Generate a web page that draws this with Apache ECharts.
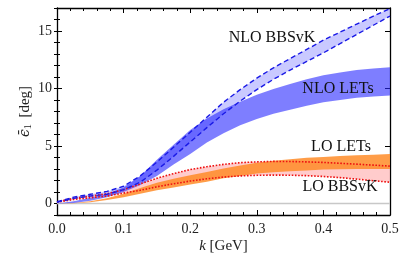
<!DOCTYPE html>
<html><head><meta charset="utf-8">
<script src="https://cdn.jsdelivr.net/npm/echarts@6/dist/echarts.min.js"></script>
<style>html,body{margin:0;padding:0;background:#fff}#c{width:407px;height:264px}</style>
</head><body><div id="c"></div>
<script>
const kVals = [0, .025, .05, .075, .1, .125, .15, .175, .2, .225, .25, .275, .3, .325, .35, .375, .4, .425, .45, .475, .5];
const nloBbsUpper = [0.15, 0.55, 0.8, 1.05, 1.5, 2.4, 3.6, 4.9, 6.2, 7.5, 8.8, 9.9, 10.9, 11.8, 12.6, 13.4, 14.2, 14.9, 15.6, 16.3, 16.95];
const nloBbsLower = [0.1, 0.45, 0.65, 0.8, 1.2, 1.85, 2.9, 4.1, 5.35, 6.6, 7.8, 8.9, 9.9, 10.8, 11.6, 12.35, 13.1, 13.9, 14.7, 15.5, 16.3];
const nloLetUpper = [0, 0.2, 0.5, 0.85, 1.4, 2.4, 3.8, 5.1, 6.4, 7.4, 8.2, 8.85, 9.45, 9.95, 10.4, 10.8, 11.15, 11.4, 11.6, 11.75, 11.85];
const nloLetLower = [0, 0.05, 0.25, 0.55, 1.0, 1.6, 2.4, 3.4, 4.3, 5.3, 6.1, 6.8, 7.35, 7.8, 8.15, 8.5, 8.8, 9.0, 9.2, 9.3, 9.4];
const loBbsUpper = [0.15, 0.45, 0.65, 0.85, 1.2, 1.7, 2.2, 2.6, 2.95, 3.2, 3.4, 3.55, 3.62, 3.66, 3.65, 3.62, 3.57, 3.5, 3.42, 3.34, 3.25];
const loBbsLower = [0.1, 0.35, 0.5, 0.65, 0.9, 1.15, 1.45, 1.72, 1.95, 2.15, 2.3, 2.4, 2.45, 2.47, 2.46, 2.42, 2.35, 2.25, 2.12, 1.98, 1.85];
const loLetUpper = [0, 0.05, 0.2, 0.45, 0.85, 1.35, 1.8, 2.15, 2.45, 2.75, 3.05, 3.3, 3.55, 3.72, 3.85, 3.97, 4.05, 4.12, 4.2, 4.25, 4.3];
const loLetLower = [0, 0.02, 0.1, 0.3, 0.55, 0.85, 1.15, 1.4, 1.65, 1.9, 2.2, 2.4, 2.6, 2.72, 2.8, 2.88, 2.95, 2.98, 3.0, 3.0, 3.0];
const xTicks = [0, 0.1, 0.2, 0.3, 0.4, 0.5];
const yTicks = [0, 5, 10, 15];
const bandLabels = ['NLO BBSvK', 'NLO LETs', 'LO LETs', 'LO BBSvK'];

const FONT = 'Liberation Serif';
const pts = arr => kVals.map((k, i) => [k, arr[i]]);

function band(up, lo, color, z) {
  return {
    type: 'custom', data: [[kVals[0], lo[0]]], z: z, silent: true, clip: true,
    renderItem: function (params, api) {
      if (params.dataIndex !== 0) return;
      const top = kVals.map((k, i) => api.coord([k, up[i]]));
      const bot = kVals.map((k, i) => api.coord([k, lo[i]])).reverse();
      return {type: 'polygon', shape: {points: top.concat(bot)}, style: {fill: color, stroke: null}};
    }
  };
}
function curve(arr, color, type, w, z) {
  return {type: 'line', data: pts(arr), smooth: false, showSymbol: false,
    lineStyle: {color: color, type: type, width: w}, z: z, silent: true};
}

const axBase = {
  type: 'value', min: 0, max: 0.5, interval: 0.1,
  axisLine: {show: true, onZero: false, lineStyle: {color: '#000', width: 1.3}},
  splitLine: {show: false},
  axisTick: {show: true, inside: true, length: 5, lineStyle: {color: '#000'}},
  minorTick: {show: true, splitNumber: 5, length: 3, lineStyle: {color: '#000'}}
};
const yMajor = pos => ({
  type: 'value', position: pos, min: -1, max: 17,
  axisLine: {show: true, onZero: false, lineStyle: {color: '#000', width: 1.3}},
  splitLine: {show: false},
  axisTick: {show: true, inside: true, length: 5, customValues: yTicks, lineStyle: {color: '#000'}},
  axisLabel: pos === 'left' ? {show: true, customValues: yTicks, fontFamily: FONT, fontSize: 14, color: '#222', margin: 5} : {show: false}
});
const yMinor = pos => ({
  type: 'value', position: pos, min: -1, max: 17, interval: 1,
  axisLine: {show: false}, splitLine: {show: false},
  axisTick: {show: true, inside: true, length: 3, lineStyle: {color: '#000'}},
  axisLabel: {show: false}
});

const chart = echarts.init(document.getElementById('c'), null, {renderer: 'canvas'});
chart.setOption({
  animation: false,
  grid: {left: 57, right: 17, top: 8, bottom: 49},
  xAxis: [
    Object.assign({}, axBase, {position: 'bottom',
      axisLabel: {fontFamily: FONT, fontSize: 14, color: '#222', margin: 7, formatter: v => v.toFixed(1)},
      name: '{i|k} [GeV]', nameLocation: 'middle', nameGap: 24, nameMoveOverlap: false,
      nameTextStyle: {fontFamily: FONT, fontSize: 15, color: '#222',
        rich: {i: {fontFamily: FONT, fontStyle: 'italic', fontSize: 15, color: '#222'}}}}),
    Object.assign({}, axBase, {position: 'top', axisLabel: {show: false}})
  ],
  yAxis: [
    Object.assign(yMajor('left'), {
      name: '{e|ϵ̄}{s|1} [deg]', nameLocation: 'middle', nameGap: 24, nameMoveOverlap: false,
      nameTextStyle: {fontFamily: FONT, fontSize: 15, color: '#222',
        rich: {e: {fontFamily: 'DejaVu Serif', fontStyle: 'italic', fontSize: 14, color: '#222'},
               s: {fontFamily: FONT, fontSize: 10, color: '#222', padding: [6, 3, 0, 0]}}}}),
    yMinor('left'), yMajor('right'), yMinor('right')
  ],
  series: [
    {type: 'line', data: [[0, 0], [0.5, 0]], showSymbol: false, lineStyle: {color: '#c8c8c8', width: 1.5}, z: 1, silent: true},
    band(loBbsUpper, loBbsLower, 'rgba(255,170,170,0.6)', 2),
    band(nloBbsUpper, nloBbsLower, 'rgba(60,60,255,0.28)', 3),
    band(loLetUpper, loLetLower, 'rgba(255,140,40,0.85)', 4),
    band(nloLetUpper, nloLetLower, 'rgba(40,40,255,0.6)', 5),
    curve(loBbsUpper, '#ee1111', 'dotted', 1.6, 8),
    curve(loBbsLower, '#ee1111', 'dotted', 1.6, 8),
    curve(nloBbsUpper, '#1a1ae6', [5, 3], 1.4, 9),
    curve(nloBbsLower, '#1a1ae6', [5, 3], 1.4, 9)
  ],
  graphic: [
    {type: 'text', x: 272, y: 38, z: 20, style: {text: bandLabels[0], font: '16px "Liberation Serif"', fill: '#111', textAlign: 'center', textVerticalAlign: 'middle'}},
    {type: 'text', x: 338, y: 89, z: 20, style: {text: bandLabels[1], font: '16px "Liberation Serif"', fill: '#111', textAlign: 'center', textVerticalAlign: 'middle'}},
    {type: 'text', x: 341, y: 147, z: 20, style: {text: bandLabels[2], font: '16px "Liberation Serif"', fill: '#111', textAlign: 'center', textVerticalAlign: 'middle'}},
    {type: 'text', x: 340, y: 187, z: 20, style: {text: bandLabels[3], font: '16px "Liberation Serif"', fill: '#111', textAlign: 'center', textVerticalAlign: 'middle'}}
  ]
});
</script></body></html>
